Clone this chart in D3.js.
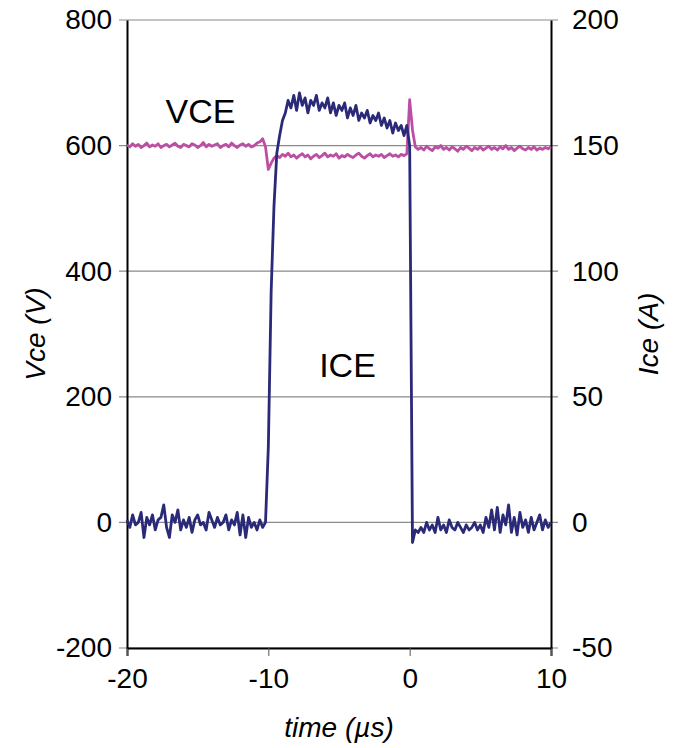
<!DOCTYPE html>
<html>
<head>
<meta charset="utf-8">
<script src="https://cdn.jsdelivr.net/npm/d3@7"></script>
<style>
  body { margin: 0; background: #fff; }
  text { font-family: "Liberation Sans", Arial, sans-serif; fill: #000; }
</style>
</head>
<body>
<div id="chart"></div>
<script>
// time axis (µs), one sample every 0.2 µs from -20 to 10
const timeTicks = [-20, -10, 0, 10];
const vceTicks = [-200, 0, 200, 400, 600, 800];
const iceTicks = [-50, 0, 50, 100, 150, 200];
const time = d3.range(151).map(i => Math.round((-20 + i * 0.2) * 10) / 10);

// collector-emitter voltage (V)
const vce = [
  601, 598, 603, 599, 602, 597, 600, 604, 598, 601,
  599, 603, 597, 600, 602, 598, 601, 604, 599, 597,
  602, 600, 598, 603, 601, 597, 600, 605, 598, 602,
  599, 601, 603, 597, 600, 602, 598, 604, 600, 597,
  601, 603, 599, 602, 598, 600, 604, 606, 611, 598,
  562, 572, 580, 584, 581, 586, 583, 588, 582, 585,
  580, 584, 587, 582, 585, 579, 583, 586, 581, 584,
  588, 582, 585, 583, 587, 580, 584, 582, 586, 583,
  581, 585, 588, 583, 580, 584, 587, 582, 585, 583,
  586, 581, 584, 587, 583, 585, 582, 586, 584, 587,
  673, 625, 598, 594, 597, 593, 599, 595, 592, 598,
  596, 600, 594, 597, 593, 598, 595, 591, 597, 594,
  599, 596, 592, 597, 594, 598, 593, 596, 599, 594,
  597, 593, 598, 595, 600, 594, 597, 592, 596, 599,
  595, 593, 597, 594, 598, 593, 596, 594, 597, 595,
  598
];

// collector current (A)
const ice = [
   1,  -2,   3,  -1,   0,   4,  -6,   2,  -1,   3,
  -3,   1,   2,   7,  -2,  -6,   3,   0,   5,  -3,
   1,  -2,   2,  -4,   1,   3,  -1,   0,  -3,   4,
   1,  -2,   2,  -1,   0,   3,  -3,   1,  -1,   4,
  -5,   3,  -6,   2,  -2,   0,  -3,   1,  -2,   0,
  30,  92, 126, 147, 154, 160, 163, 168, 165, 170,
  164, 171, 166, 169, 163, 168, 166, 170, 164, 167,
  165, 169, 163, 167, 162, 166, 164, 167, 161, 165,
  162, 166, 160, 163, 161, 164, 159, 162, 160, 163,
  158, 161, 157, 160, 155, 159, 156, 158, 154, 158,
  150,  -8,  -3,  -4,  -2,  -4,   0,  -3,  -1,  -4,
   2,  -3,  -1,  -4,   1,  -2,  -3,   0,  -2,  -4,
  -1,  -3,  -2,   0,  -3,  -1,  -4,   2,  -2,   5,
  -3,   6,  -4,   3,  -1,   7,  -4,   2,  -5,   4,
  -2,   1,  -4,   2,  -3,   0,   3,  -3,   1,  -2,
   0
];

const width = 676, height = 748;
const plotLeft = 127, plotRight = 551, plotTop = 20, plotBottom = 648;

const x = d3.scaleLinear().domain([-20, 10]).range([plotLeft, plotRight]);
const yV = d3.scaleLinear().domain([-200, 800]).range([plotBottom, plotTop]);
const yA = d3.scaleLinear().domain([-50, 200]).range([plotBottom, plotTop]);

const svg = d3.select("#chart").append("svg")
    .attr("width", width)
    .attr("height", height);

// plain hyphen for negatives, as in the original
const fmt = d => String(d);

//Horizontal gridlines, running out past both axes as tick marks.
svg.append("g")
    .selectAll("line")
    .data(vceTicks)
    .enter()
    .append("line")
    .attr("x1", plotLeft - 8)
    .attr("x2", plotRight + 7)
    .attr("y1", d => yV(d))
    .attr("y2", d => yV(d))
    .attr("stroke", "#8a8a8a")
    .attr("stroke-width", 1.2);

//Axes.
svg.append("g")
    .attr("transform", `translate(0,${plotBottom})`)
    .call(d3.axisBottom(x).tickValues(timeTicks).tickSize(8).tickPadding(12).tickFormat(fmt))
    .call(g => g.select(".domain").attr("stroke", "#000").attr("stroke-width", 2))
    .call(g => g.selectAll(".tick line").attr("stroke", "#555"))
    .call(g => g.selectAll("text").attr("font-size", 28).attr("fill", "#000")
        .style("font-family", '"Liberation Sans", Arial, sans-serif'));

svg.append("g")
    .attr("transform", `translate(${plotLeft},0)`)
    .call(d3.axisLeft(yV).tickValues(vceTicks).tickSize(0).tickPadding(15).tickFormat(fmt))
    .call(g => g.select(".domain").attr("stroke", "#000").attr("stroke-width", 2))
    .call(g => g.selectAll("text").attr("font-size", 28).attr("fill", "#000")
        .style("font-family", '"Liberation Sans", Arial, sans-serif'));

svg.append("g")
    .attr("transform", `translate(${plotRight},0)`)
    .call(d3.axisRight(yA).tickValues(iceTicks).tickSize(0).tickPadding(21).tickFormat(fmt))
    .call(g => g.select(".domain").attr("stroke", "#000").attr("stroke-width", 2))
    .call(g => g.selectAll("text").attr("font-size", 28).attr("fill", "#000")
        .style("font-family", '"Liberation Sans", Arial, sans-serif'));

//Traces.
const lineV = d3.line().x((d, i) => x(time[i])).y(d => yV(d));
const lineA = d3.line().x((d, i) => x(time[i])).y(d => yA(d));

svg.append("path")
    .datum(vce)
    .attr("d", lineV)
    .attr("fill", "none")
    .attr("stroke", "#bb4fa3")
    .attr("stroke-width", 2.8)
    .attr("stroke-linejoin", "round");

svg.append("path")
    .datum(ice)
    .attr("d", lineA)
    .attr("fill", "none")
    .attr("stroke", "#2a2a78")
    .attr("stroke-width", 2.8)
    .attr("stroke-linejoin", "round");

//Labels.
svg.append("text")
    .attr("x", x(-14.8)).attr("y", yV(636))
    .attr("text-anchor", "middle")
    .attr("font-size", 34)
    .text("VCE");

svg.append("text")
    .attr("x", x(-4.4)).attr("y", yV(232))
    .attr("text-anchor", "middle")
    .attr("font-size", 34)
    .text("ICE");

svg.append("text")
    .attr("x", (plotLeft + plotRight) / 2).attr("y", 737)
    .attr("text-anchor", "middle")
    .attr("font-size", 28)
    .attr("font-style", "italic")
    .text("time (µs)");

svg.append("text")
    .attr("transform", `translate(45,${(plotTop + plotBottom) / 2}) rotate(-90)`)
    .attr("text-anchor", "middle")
    .attr("font-size", 28)
    .attr("font-style", "italic")
    .text("Vce (V)");

svg.append("text")
    .attr("transform", `translate(658,${(plotTop + plotBottom) / 2}) rotate(-90)`)
    .attr("text-anchor", "middle")
    .attr("font-size", 28)
    .attr("font-style", "italic")
    .text("Ice (A)");
</script>
</body>
</html>
